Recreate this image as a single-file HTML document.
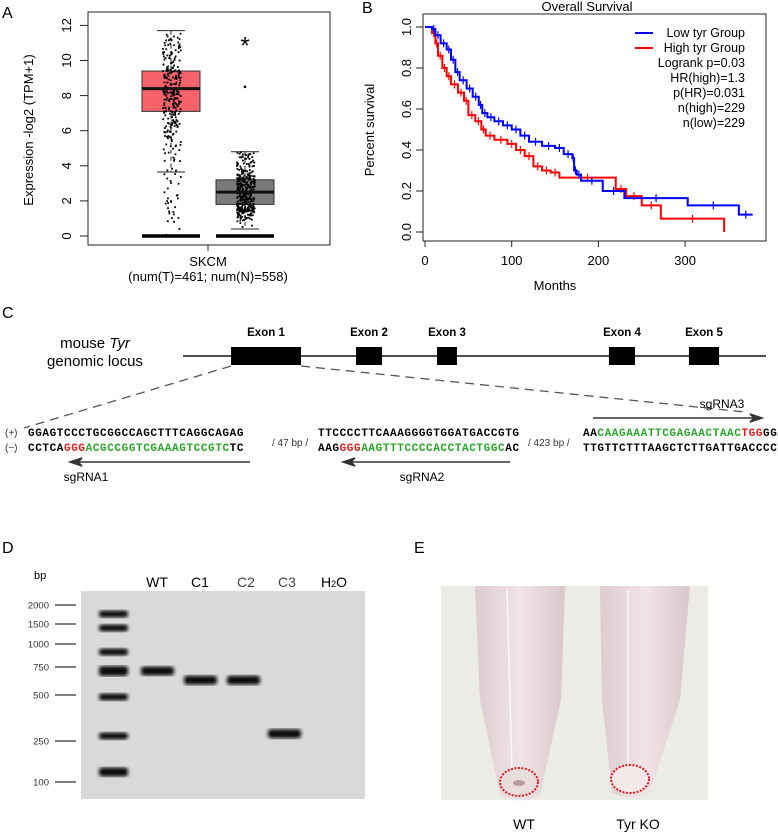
<!DOCTYPE html>
<html><head><meta charset="utf-8"><style>
html,body{margin:0;padding:0;background:#fff;}
svg{display:block;font-family:"Liberation Sans",sans-serif;}
.seq{font-family:"Liberation Mono",monospace;font-weight:bold;font-size:11px;letter-spacing:0.6px;}
</style></head><body>
<svg id="fig" width="778" height="836" viewBox="0 0 778 836">
<defs>
<filter id="blur1"><feGaussianBlur stdDeviation="1.8"/></filter>
<linearGradient id="tubeG" x1="0" x2="1"><stop offset="0" stop-color="#dccbd0"/><stop offset="0.5" stop-color="#f1e4e7"/><stop offset="1" stop-color="#d9c7cc"/></linearGradient>
</defs>

<!-- Panel A -->
<g>
<text x="2" y="18" font-size="16">A</text>
<rect x="88" y="12" width="242" height="233" fill="none" stroke="#222" stroke-width="1"/>
<text transform="translate(33,130) rotate(-90)" text-anchor="middle" font-size="13">Expression -log2 (TPM+1)</text>
<g id="aAxis"></g>
<g id="aPlot"></g>
<line x1="208" y1="245" x2="208" y2="251" stroke="#222"/>
<text x="208" y="266" text-anchor="middle" font-size="13">SKCM</text>
<text x="208" y="281" text-anchor="middle" font-size="13">(num(T)=461; num(N)=558)</text>
</g>

<!-- Panel B -->
<g>
<text x="362" y="13" font-size="16">B</text>
<text x="587" y="11" text-anchor="middle" font-size="13">Overall Survival</text>
<rect x="423" y="14" width="343" height="227" fill="none" stroke="#222"/>
<text transform="translate(374,130) rotate(-90)" text-anchor="middle" font-size="13">Percent survival</text>
<text x="555" y="290" text-anchor="middle" font-size="13">Months</text>
<g id="bAxis"></g>
<g id="bPlot"></g>
<g font-size="12.5">
<line x1="635" y1="33" x2="653" y2="33" stroke="#0000ff" stroke-width="2"/>
<text x="745" y="37" text-anchor="end">Low tyr Group</text>
<line x1="635" y1="48" x2="653" y2="48" stroke="#ff0000" stroke-width="2"/>
<text x="745" y="52" text-anchor="end">High tyr Group</text>
<text x="745" y="67" text-anchor="end">Logrank p=0.03</text>
<text x="745" y="82" text-anchor="end">HR(high)=1.3</text>
<text x="745" y="97" text-anchor="end">p(HR)=0.031</text>
<text x="745" y="112" text-anchor="end">n(high)=229</text>
<text x="745" y="127" text-anchor="end">n(low)=229</text>
</g>
</g>

<!-- Panel C -->
<g>
<text x="2" y="318" font-size="16">C</text>
<text x="95" y="348" text-anchor="middle" font-size="15">mouse <tspan font-style="italic">Tyr</tspan></text>
<text x="95" y="366" text-anchor="middle" font-size="15">genomic locus</text>
<line x1="183" y1="356" x2="766" y2="356" stroke="#111" stroke-width="1.5"/>
<g font-size="11.5" font-weight="bold" text-anchor="middle">
<rect x="231" y="347" width="70" height="18" fill="#000"/>
<text x="266" y="336">Exon 1</text>
<rect x="356" y="347" width="26" height="18" fill="#000"/>
<text x="369" y="336">Exon 2</text>
<rect x="437" y="347" width="20" height="18" fill="#000"/>
<text x="447" y="336">Exon 3</text>
<rect x="609" y="347" width="26" height="18" fill="#000"/>
<text x="622" y="336">Exon 4</text>
<rect x="689" y="347" width="30" height="18" fill="#000"/>
<text x="704" y="336">Exon 5</text>
</g>
<line x1="231" y1="366" x2="24" y2="428" stroke="#555" stroke-width="1.3" stroke-dasharray="9,6"/>
<line x1="301" y1="366" x2="745" y2="412" stroke="#555" stroke-width="1.3" stroke-dasharray="9,6"/>
<text x="5" y="436" font-size="10" fill="#333">(+)</text>
<text x="5" y="451" font-size="10" fill="#333">(−)</text>
<text x="28" y="436" class="seq">GGAGTCCCTGCGGCCAGCTTTCAGGCAGAG</text>
<text x="28" y="451" class="seq">CCTCA<tspan fill="#e31b1b">GGG</tspan><tspan fill="#2aa52a">ACGCCGGTCGAAAGTCCGTC</tspan>TC</text>
<text x="272" y="446" font-size="10" fill="#333">/ 47 bp /</text>
<text x="318" y="436" class="seq">TTCCCCTTCAAAGGGGTGGATGACCGTG</text>
<text x="318" y="451" class="seq">AAG<tspan fill="#e31b1b">GGG</tspan><tspan fill="#2aa52a">AAGTTTCCCCACCTACTGGC</tspan>AC</text>
<text x="528" y="446" font-size="10" fill="#333">/ 423 bp /</text>
<text x="583" y="436" class="seq">AA<tspan fill="#2aa52a">CAAGAAATTCGAGAACTAAC</tspan><tspan fill="#e31b1b">TGG</tspan>GGA</text>
<text x="583" y="451" class="seq">TTGTTCTTTAAGCTCTTGATTGACCCCT</text>
<g stroke="#333" stroke-width="1.5" fill="#333">
<line x1="250" y1="462" x2="72" y2="462"/>
<path d="M70,462 L82,458 L78,462 L82,466 Z"/>
<line x1="510" y1="462" x2="345" y2="462"/>
<path d="M343,462 L355,458 L351,462 L355,466 Z"/>
<line x1="593" y1="418" x2="760" y2="418"/>
<path d="M762,418 L750,414 L754,418 L750,422 Z"/>
</g>
<text x="86" y="481" text-anchor="middle" font-size="12">sgRNA1</text>
<text x="422" y="481" text-anchor="middle" font-size="12">sgRNA2</text>
<text x="722" y="408" text-anchor="middle" font-size="12">sgRNA3</text>
</g>

<!-- Panel D -->
<g>
<text x="2" y="553" font-size="16">D</text>
<text x="34" y="579" font-size="11">bp</text>
<rect x="81" y="591" width="284" height="208" fill="#d9d9d9"/>
<g id="dGel"></g>
<g font-size="14" text-anchor="middle">
<text x="157" y="587">WT</text>
<text x="200" y="587">C1</text>
<text x="246" y="587" fill="#444">C2</text>
<text x="287" y="587" fill="#444">C3</text>
<text x="334" y="587">H<tspan font-size="9">2</tspan>O</text>
</g>
</g>

<!-- Panel E -->
<g>
<text x="414" y="553" font-size="16">E</text>
<rect x="441" y="586" width="267" height="214" fill="#ecece6"/>
<path d="M475,586 L565,586 L561,700 L540,795 Q520,806 500,795 L480,700 Z" fill="url(#tubeG)"/>
<path d="M600,586 L690,586 L680,700 L650,792 Q630,804 612,792 L602,700 Z" fill="url(#tubeG)"/>
<line x1="507" y1="590" x2="512" y2="770" stroke="#fff" stroke-width="1.5" opacity="0.8"/>
<line x1="628" y1="590" x2="628" y2="765" stroke="#fff" stroke-width="1.5" opacity="0.8"/>
<ellipse cx="519" cy="782" rx="19" ry="14" fill="#e9dcdc" stroke="#e01818" stroke-width="2" stroke-dasharray="2,1.5"/>
<ellipse cx="519" cy="783" rx="6" ry="3" fill="#9a7070" opacity="0.6"/>
<ellipse cx="630" cy="779" rx="19" ry="14" fill="#f3e9e9" stroke="#e01818" stroke-width="2" stroke-dasharray="2,1.5"/>
<text x="524" y="829" text-anchor="middle" font-size="14">WT</text>
<text x="638" y="829" text-anchor="middle" font-size="14">Tyr KO</text>
</g>
</svg>

<script>
var NS="http://www.w3.org/2000/svg";
function mk(tag,attrs,parent){var e=document.createElementNS(NS,tag);for(var k in attrs)e.setAttribute(k,attrs[k]);parent.appendChild(e);return e;}

// ---- Panel A data ----
var aGroups=["Tumor","Normal"];
var aQ1=[7.1,1.8];
var aMedian=[8.4,2.5];
var aQ3=[9.4,3.2];
var aWhiskerHigh=[11.7,4.8];
var aWhiskerLow=[3.65,0.4];
var aOutliers=[[],[8.5]];
var aFill=["#f7636a","#7a7a7a"];
var aTicks=[0,2,4,6,8,10,12];
// ---- Panel B data ----
var bLowT=[0,8,12,18,25,30,35,40,48,55,62,66,72,80,90,100,110,120,135,150,160,170,172,175,180,205,230,303,362,378];
var bLowS=[1,0.99,0.96,0.92,0.89,0.84,0.78,0.74,0.70,0.66,0.62,0.58,0.56,0.54,0.52,0.50,0.47,0.44,0.42,0.41,0.38,0.36,0.30,0.28,0.25,0.20,0.165,0.13,0.085,0.085];
var bHighT=[0,8,12,15,20,25,30,38,45,50,58,65,70,80,95,105,115,125,135,145,155,220,232,250,272,345];
var bHighS=[1,0.97,0.92,0.86,0.80,0.76,0.72,0.68,0.64,0.57,0.54,0.50,0.47,0.45,0.43,0.40,0.37,0.32,0.30,0.29,0.265,0.21,0.175,0.13,0.065,0.0];
var bXTicks=[0,100,200,300];
var bYTicks=[0,0.2,0.4,0.6,0.8,1.0];
// ---- Panel D data ----
var ladderBp=[2000,1500,1000,750,500,250,100];
var laneNames=["WT","C1","C2","C3"];
var laneBp=[750,650,650,260];

// Panel A
var aG=document.getElementById("aPlot"), aAx=document.getElementById("aAxis");
function ay(v){return 236-v*17.55;}
var aCx=[171,245];
aTicks.forEach(function(t){
  var l=mk("line",{x1:80,x2:88,y1:ay(t),y2:ay(t),stroke:"#222"},aAx);
  
  
  var tx=mk("text",{transform:"translate(71,"+ay(t)+") rotate(-90)","text-anchor":"middle","font-size":"13"},aAx);
  tx.textContent=t;
  
  
});
var seed=7;function rnd(){seed=(seed*9301+49297)%233280;return seed/233280;}
aGroups.forEach(function(g,i){
  var cx=aCx[i];
  var wl=mk("line",{x1:cx,x2:cx,y1:ay(aWhiskerHigh[i]),y2:ay(aWhiskerLow[i]),stroke:"#222","stroke-dasharray":"4,3"},aG);
  
  
  var bx=mk("rect",{x:cx-29,y:ay(aQ3[i]),width:58,height:ay(aQ1[i])-ay(aQ3[i]),fill:aFill[i],stroke:"#333"},aG);
  
  
  [aWhiskerHigh[i],aWhiskerLow[i]].forEach(function(v){
    var c=mk("line",{x1:cx-14,x2:cx+14,y1:ay(v),y2:ay(v),stroke:"#222"},aG);
    
    
  });
  var n=i==0?300:380;
  for(var k=0;k<n;k++){
    var u=rnd(),v;
    if(u<0.25)v=aWhiskerLow[i]+(aQ1[i]-aWhiskerLow[i])*Math.pow(u/0.25,0.4);
    else if(u<0.75)v=aQ1[i]+(aQ3[i]-aQ1[i])*(u-0.25)/0.5;
    else v=aQ3[i]+(aWhiskerHigh[i]-aQ3[i])*Math.pow((u-0.75)/0.25,1.6);
    if(i==0&&rnd()<0.08)v=rnd()*4;
    var p=mk("rect",{x:cx-9+rnd()*18,y:ay(v)-0.8,width:1.8,height:1.8,fill:"#000"},aG);
    
    
  }
  var md=mk("line",{x1:cx-29,x2:cx+29,y1:ay(aMedian[i]),y2:ay(aMedian[i]),stroke:"#111","stroke-width":3},aG);
  
  
  var z=mk("line",{x1:cx-29,x2:cx+29,y1:ay(0),y2:ay(0),stroke:"#000","stroke-width":3.5},aG);
  
  
  aOutliers[i].forEach(function(v){
    var o=mk("circle",{cx:cx,cy:ay(v),r:1.3,fill:"#000"},aG);
    
    
  });
});
var star=mk("text",{x:aCx[1],y:ay(10.4),"text-anchor":"middle","font-size":"24"},aG);
star.textContent="*";



// Panel B
var bG=document.getElementById("bPlot"), bAx=document.getElementById("bAxis");
function bx(t){return 425+t*0.867;}
function by(s){return 232-s*205;}
bXTicks.forEach(function(t){
  var l=mk("line",{x1:bx(t),x2:bx(t),y1:241,y2:247,stroke:"#222"},bAx);
  
  
  var tx=mk("text",{x:bx(t),y:265,"text-anchor":"middle","font-size":"13"},bAx);
  tx.textContent=t;
  
  
});
bYTicks.forEach(function(t){
  var l=mk("line",{x1:416,x2:423,y1:by(t),y2:by(t),stroke:"#222"},bAx);
  
  
  var tx=mk("text",{transform:"translate(411,"+by(t)+") rotate(-90)","text-anchor":"middle","font-size":"13"},bAx);
  tx.textContent=t.toFixed(1);
  
  
});
function step(T,S,color,name){
  var d="M"+bx(T[0])+","+by(S[0]);
  for(var i=1;i<T.length;i++){d+=" L"+bx(T[i])+","+by(S[i-1])+" L"+bx(T[i])+","+by(S[i]);}
  var p=mk("path",{d:d,fill:"none",stroke:color,"stroke-width":2},bG);
  
  
  for(var j=1;j<T.length-1;j++){
    var m=(T[j]+T[j+1])/2;
    var c=mk("line",{x1:bx(m),x2:bx(m),y1:by(S[j])-4,y2:by(S[j])+4,stroke:color,"stroke-width":1.2},bG);
    
    
  }
}
step(bHighT,bHighS,"#ff0000","survival-line-high");
step(bLowT,bLowS,"#0000ff","survival-line-low");

// Panel D: piecewise log-scale calibration of gel mobility
var calBandY=[614,628,652,671,697,736,772];
var calTickY=[605,624,644,667,695,741,782];
function interpLog(bp,arr){
  var L=Math.log(bp);
  for(var i=0;i<ladderBp.length-1;i++){
    var a=Math.log(ladderBp[i]),b=Math.log(ladderBp[i+1]);
    if(L<=a&&L>=b){return arr[i]+(a-L)/(a-b)*(arr[i+1]-arr[i]);}
  }
  return L>Math.log(ladderBp[0])?arr[0]:arr[arr.length-1];
}
var dG=document.getElementById("dGel");
ladderBp.forEach(function(bp){
  var ty=interpLog(bp,calTickY), y=interpLog(bp,calBandY);
  var l=mk("line",{x1:55,x2:76,y1:ty,y2:ty,stroke:"#333","stroke-width":1.2},dG);
  
  
  var tx=mk("text",{x:49,y:ty+3.5,"text-anchor":"end","font-size":"9.5",fill:"#333"},dG);
  tx.textContent=bp;
  
  
  var h=bp==750?10:(bp==100?9:7);
  var b=mk("rect",{x:99,y:y-h/2,width:29,height:h,rx:3,fill:"#111",filter:"url(#blur1)"},dG);
  
  
});
var laneX=[141,184,227,268];
laneNames.forEach(function(n,i){
  var y=interpLog(laneBp[i],calBandY);
  var b=mk("rect",{x:laneX[i],y:y-4.5,width:33,height:9,rx:3,fill:"#0d0d0d",filter:"url(#blur1)"},dG);
  
  
});
</script>
</body></html>
